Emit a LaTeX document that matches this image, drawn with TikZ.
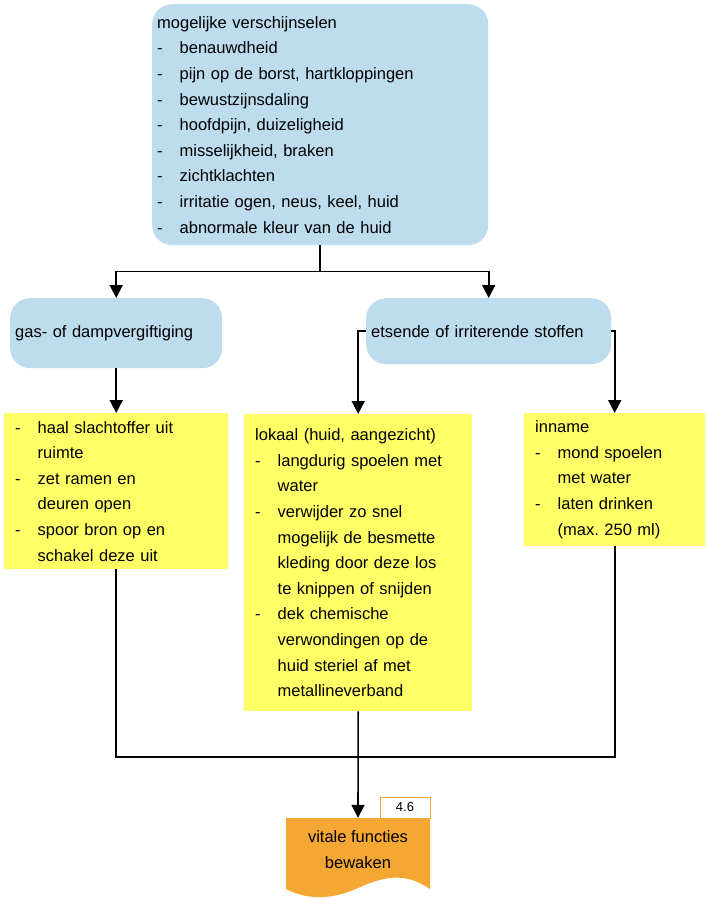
\documentclass[tikz,border=0pt]{standalone}
\usepackage{fontspec}
\setmainfont{Liberation Sans}
\usetikzlibrary{arrows.meta}
\definecolor{lichtblauw}{HTML}{BDDCEE}
\definecolor{geel}{HTML}{FFFF66}
\definecolor{oranje}{HTML}{F5A733}
\newcommand{\itm}{\makebox[22.5pt][l]{-}}
\newcommand{\inspr}{\hspace*{22.5pt}}
\frenchspacing

\begin{document}
\begin{tikzpicture}[x=1pt,y=-1pt,
 tekst/.style={font=\fontsize{16.5}{25.6}\selectfont, align=left, anchor=north west, inner ysep=0pt},
 blauw/.style={tekst, fill=lichtblauw, rounded corners=20pt, inner xsep=5pt},
 gele/.style={tekst, fill=geel, inner xsep=11pt},
 lijn/.style={line width=1.6pt},
 pijl/.style={lijn, -{Triangle[width=13pt,length=13pt]}}]
\useasboundingbox (0,0) rectangle (705,898);
%vakken
\node[blauw, text width=326pt, minimum height=241pt] (top) at (152,4) {mogelijke verschijnselen\\
\itm benauwdheid\\
\itm pijn op de borst, hartkloppingen\\
\itm bewustzijnsdaling\\
\itm hoofdpijn, duizeligheid\\
\itm misselijkheid, braken\\
\itm zichtklachten\\
\itm irritatie ogen, neus, keel, huid\\
\itm abnormale kleur van de huid};
\node[blauw, text width=202pt, minimum height=70pt] (gas) at (10,298) {gas- of dampvergiftiging};
\node[blauw, text width=235pt, minimum height=66pt] (ets) at (366,298) {etsende of irriterende stoffen};
\node[gele, text width=202pt, minimum height=156pt] (haal) at (4,413) {\itm haal slachtoffer uit\\
\inspr ruimte\\
\itm zet ramen en\\
\inspr deuren open\\
\itm spoor bron op en\\
\inspr schakel deze uit};
\node[gele, text width=206pt, minimum height=297pt] (lokaal) at (244,414) {lokaal (huid, aangezicht)\\
\itm langdurig spoelen met\\
\inspr water\\
\itm verwijder zo snel\\
\inspr mogelijk de besmette\\
\inspr kleding door deze los\\
\inspr te knippen of snijden\\
\itm dek chemische\\
\inspr verwondingen op de\\
\inspr huid steriel af met\\
\inspr metallineverband};
\node[gele, text width=159pt, minimum height=133pt] (inname) at (524,413) {inname\\
\itm mond spoelen\\
\inspr met water\\
\itm laten drinken\\
\inspr (max. 250 ml)};
%document
\fill[oranje] (286,818) -- (430,818) -- (430,889) .. controls (405,872) and (385,876) .. (358,888) .. controls (330,901) and (305,899) .. (286,889) -- cycle;
\node[font=\fontsize{16.5}{25.6}\selectfont, align=center, minimum width=144pt, minimum height=63pt, inner sep=0pt] (vitaal) at (358,849.5) {vitale functies\\bewaken};
\node[draw=oranje, fill=white, line width=1pt, minimum width=50pt, minimum height=21pt, inner sep=0pt, font=\fontsize{13}{15}\selectfont] (tab) at (405,807.5) {4.6};
%pijlen
\draw[lijn] (top.south) -- ++(0,26) coordinate (splits);
\draw[pijl] (splits) -| (gas.north);
\draw[pijl] (splits) -| (ets.north);
\draw[pijl] (gas.south) -- (haal.north);
\draw[pijl] (ets.west) -| (lokaal.north);
\draw[pijl] (ets.east) -| (inname.north);
\coordinate (samen) at (358,757);
\draw[lijn] (haal.south) |- (samen) -| (inname.south);
\draw[pijl] (lokaal.south) -- (vitaal.north);
\end{tikzpicture}
\end{document}
